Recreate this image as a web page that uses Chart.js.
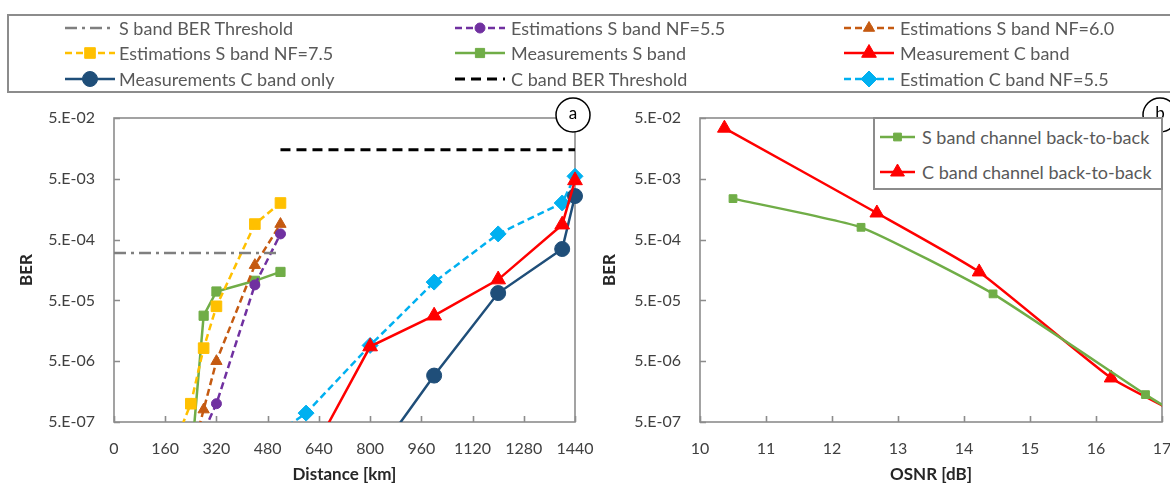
<!DOCTYPE html>
<html>
<head>
<meta charset="utf-8">
<script src="https://cdn.jsdelivr.net/npm/chart.js@4.4.1/dist/chart.umd.min.js"></script>
<style>
  html, body { margin: 0; padding: 0; background: #fff; }
  body { width: 1170px; height: 483px; overflow: hidden; position: relative; font-family: Lato, "Open Sans", sans-serif; }
  .box { position: absolute; border: 2px solid #8c8c8c; box-sizing: border-box; background: transparent; }
  .lg-text { position: absolute; font-size: 18px; line-height: 20px; color: #595959; white-space: nowrap; }
  canvas.icon { position: absolute; }
  .cv { position: absolute; top: 0; }
</style>
</head>
<body>
<div class="box" id="topLegend" style="left:7px; top:14px; width:1200px; height:79px;"></div>
<canvas id="c1" class="cv" width="600" height="483" style="left:0px;"></canvas>
<canvas id="c2" class="cv" width="600" height="483" style="left:600px;"></canvas>
<div class="box" id="rightLegend" style="left:873px; top:117px; width:290px; height:73px; background:#fff;"></div>
<script>
// ---------------- data ----------------
const yTickValues = [5e-7, 5e-6, 5e-5, 5e-4, 5e-3, 5e-2];
const yTickLabels = ['5.E-07', '5.E-06', '5.E-05', '5.E-04', '5.E-03', '5.E-02'];

// Panel (a): BER vs distance [km]
const sThresholdKm = [0, 510];
const sThresholdBer = [3.0e-4, 3.0e-4];
const estS55Km = [240, 320, 440, 520];
const estS55Ber = [1.2e-7, 1.0e-6, 9.0e-5, 6.2e-4];
const estS60Km = [240, 280, 320, 440, 520];
const estS60Ber = [1.2e-7, 8.0e-7, 5.0e-6, 1.9e-4, 9.0e-4];
const estS75Km = [200, 240, 280, 320, 440, 520];
const estS75Ber = [3.0e-7, 1.0e-6, 8.2e-6, 4.0e-5, 9.0e-4, 2.0e-3];
const measSKm = [240, 280, 320, 440, 520];
const measSBer = [1.0e-7, 2.8e-5, 7.0e-5, 1.05e-4, 1.47e-4];
const measCKm = [600, 800, 1000, 1200, 1400, 1440];
const measCBer = [1.0e-7, 8.7e-6, 2.8e-5, 1.1e-4, 8.8e-4, 4.7e-3];
const measCOnlyKm = [800, 1000, 1200, 1400, 1440];
const measCOnlyBer = [1.0e-7, 2.9e-6, 6.6e-5, 3.5e-4, 2.6e-3];
const cThresholdKm = [520, 1440];
const cThresholdBer = [1.5e-2, 1.5e-2];
const estC55Km = [400, 600, 800, 1000, 1200, 1400, 1440];
const estC55Ber = [1.3e-7, 7.0e-7, 9.1e-6, 1.0e-4, 6.2e-4, 2.0e-3, 5.5e-3];

// Panel (b): BER vs OSNR [dB]
const osnrS = [10.5, 12.44, 14.44, 16.75, 17.5];
const berS = [2.36e-3, 7.96e-4, 6.4e-5, 1.41e-6, 4.5e-7];
const osnrC = [10.37, 12.68, 14.23, 16.23, 17.5];
const berC = [3.4e-2, 1.37e-3, 1.47e-4, 2.65e-6, 5.0e-7];

// ---------------- helpers ----------------
const FONT = 'Lato, "Open Sans", sans-serif';
const TICK_COLOR = '#404040';
const FRAME_COLOR = '#8c8c8c';
function pts(xs, ys) { return xs.map((x, i) => ({ x: x, y: ys[i] })); }

function series(label, xs, ys, color, dash, marker, r, width, extra) {
  return Object.assign({
    label: label,
    data: pts(xs, ys),
    borderColor: color,
    backgroundColor: color,
    borderWidth: width || 2.5,
    borderDash: dash,
    pointStyle: marker || 'circle',
    pointRadius: marker ? r : 0,
    pointHoverRadius: marker ? r : 0,
    pointBackgroundColor: color,
    pointBorderColor: color,
    pointBorderWidth: 1,
    tension: 0,
    fill: false
  }, extra || {});
}

function drawMarker(ctx, style, x, y, r) {
  ctx.beginPath();
  if (style === 'circle') {
    ctx.arc(x, y, r, 0, Math.PI * 2);
  } else if (style === 'rect') {
    const s = Math.SQRT1_2 * r;
    ctx.rect(x - s, y - s, 2 * s, 2 * s);
  } else if (style === 'rectRot') {
    ctx.moveTo(x - r, y); ctx.lineTo(x, y - r); ctx.lineTo(x + r, y); ctx.lineTo(x, y + r); ctx.closePath();
  } else if (style === 'triangle') {
    let rad = 0;
    ctx.moveTo(x + Math.sin(rad) * r, y - Math.cos(rad) * r);
    rad += 2 * Math.PI / 3;
    ctx.lineTo(x + Math.sin(rad) * r, y - Math.cos(rad) * r);
    rad += 2 * Math.PI / 3;
    ctx.lineTo(x + Math.sin(rad) * r, y - Math.cos(rad) * r);
    ctx.closePath();
  }
  ctx.fill();
  ctx.stroke();
}

function addLegendItem(ds, iconX, textX, cy, iconW) {
  const c = document.createElement('canvas');
  c.className = 'icon';
  c.width = iconW; c.height = 24;
  c.style.left = iconX + 'px';
  c.style.top = (cy - 12) + 'px';
  document.body.appendChild(c);
  const ctx = c.getContext('2d');
  ctx.strokeStyle = ds.borderColor;
  ctx.fillStyle = ds.borderColor;
  ctx.lineWidth = ds.borderWidth;
  ctx.setLineDash(ds.borderDash || []);
  ctx.beginPath(); ctx.moveTo(0, 12); ctx.lineTo(iconW, 12); ctx.stroke();
  ctx.setLineDash([]);
  ctx.lineWidth = 1;
  if (ds.pointRadius > 0) drawMarker(ctx, ds.pointStyle, iconW / 2, 12, ds.pointRadius);
  const t = document.createElement('div');
  t.className = 'lg-text';
  t.textContent = ds.label;
  t.style.left = textX + 'px';
  t.style.top = (cy - 10) + 'px';
  document.body.appendChild(t);
}

const framePlugin = {
  id: 'frame',
  beforeDatasetsDraw(chart, args, opts) {
    const { ctx, chartArea: a } = chart;
    const xs = chart.scales.x, ys = chart.scales.y;
    ctx.save();
    ctx.strokeStyle = FRAME_COLOR;
    ctx.lineWidth = 1.6;
    ctx.strokeRect(a.left, a.top, a.right - a.left, a.bottom - a.top);
    ctx.beginPath();
    xs.ticks.forEach(t => {
      const px = Math.round(xs.getPixelForValue(t.value)) + 0.5;
      ctx.moveTo(px, a.bottom); ctx.lineTo(px, a.bottom - 6);
    });
    ys.ticks.forEach(t => {
      const py = Math.round(ys.getPixelForValue(t.value)) + 0.5;
      ctx.moveTo(a.left, py); ctx.lineTo(a.left + 6, py);
    });
    ctx.stroke();
    ctx.restore();
  },
  afterDraw(chart, args, opts) {
    if (!opts || !opts.label) return;
    const { ctx, chartArea: a } = chart;
    ctx.save();
    ctx.beginPath();
    ctx.arc(a.right - 2, a.top - 3, 17, 0, Math.PI * 2);
    ctx.fillStyle = '#fff';
    ctx.fill();
    ctx.strokeStyle = '#000';
    ctx.lineWidth = 1.5;
    ctx.stroke();
    ctx.fillStyle = '#000';
    ctx.font = '17px ' + FONT;
    ctx.textAlign = 'center';
    ctx.textBaseline = 'middle';
    ctx.fillText(opts.label, a.right - 2, a.top - 4);
    ctx.restore();
  }
};

function yScale(titlePadTop, width) {
  return {
    type: 'logarithmic',
    min: yTickValues[0],
    max: yTickValues[yTickValues.length - 1],
    afterBuildTicks: s => { s.ticks = yTickValues.map(v => ({ value: v })); },
    afterFit: s => { s.width = width; },
    ticks: {
      autoSkip: false,
      padding: 19,
      color: TICK_COLOR,
      font: { family: FONT, size: 16 },
      callback: v => { const i = yTickValues.findIndex(t => Math.abs(t - v) / t < 1e-6); return i >= 0 ? yTickLabels[i] : ''; }
    },
    grid: { display: false, drawTicks: false },
    border: { display: false },
    title: { display: true, text: 'BER', color: '#262626', font: { family: FONT, size: 17, weight: 'bold', lineHeight: 1 }, padding: { top: titlePadTop, bottom: 0 } }
  };
}

function xScale(min, max, step, title) {
  return {
    type: 'linear',
    min: min, max: max,
    afterFit: s => { s.height = 61; },
    ticks: { stepSize: step, autoSkip: false, maxRotation: 0, padding: 4, color: TICK_COLOR, font: { family: FONT, size: 16 },
      callback: v => String(v) },
    grid: { display: false, drawTicks: true, tickLength: 13 },
    border: { display: false },
    title: { display: true, text: title, color: '#262626', font: { family: FONT, size: 17, weight: 'bold', lineHeight: 1 }, padding: { top: 0, bottom: 0 } }
  };
}

const clipA = { left: 20, top: 20, right: 20, bottom: 0 };
const dash = [7, 4];
const leftDatasets = [
  series('S band BER Threshold', sThresholdKm, sThresholdBer, '#7F7F7F', [12, 5, 3, 5], null, 0, 2.5),
  series('Estimations S band NF=5.5', estS55Km, estS55Ber, '#7030A0', dash, 'circle', 5),
  series('Estimations S band NF=6.0', estS60Km, estS60Ber, '#C55A11', dash, 'triangle', 6.5),
  series('Estimations S band NF=7.5', estS75Km, estS75Ber, '#FFC000', dash, 'rect', 7.5),
  series('Measurements S band', measSKm, measSBer, '#70AD47', [], 'rect', 6.5),
  series('Measurement C band', measCKm, measCBer, '#FF0000', [], 'triangle', 8.5),
  series('Measurements C band only', measCOnlyKm, measCOnlyBer, '#1F4E79', [], 'circle', 7.5),
  series('C band BER Threshold', cThresholdKm, cThresholdBer, '#000000', [10, 6], null, 0, 3),
  series('Estimation C band NF=5.5', estC55Km, estC55Ber, '#00B0F0', dash, 'rectRot', 8)
];
leftDatasets.forEach(d => { d.clip = clipA; });

new Chart(document.getElementById('c1'), {
  type: 'line',
  data: { datasets: leftDatasets },
  options: {
    responsive: false,
    animation: false,
    devicePixelRatio: 1,
    layout: { padding: { left: 0, top: 118, right: 25, bottom: 0 } },
    plugins: { legend: { display: false }, tooltip: { enabled: false }, frame: { label: 'a' } },
    scales: { x: xScale(0, 1440, 160, 'Distance [km]'), y: yScale(18, 114) }
  },
  plugins: [framePlugin]
});

const clipB = { left: 20, top: 20, right: 0, bottom: 0 };
const rightDatasets = [
  series('S band channel back-to-back', osnrS, berS, '#70AD47', [], 'rect', 5.5, 2.5, { tension: 0.15, clip: clipB }),
  series('C band channel back-to-back', osnrC, berC, '#FF0000', [], 'triangle', 8, 2.5, { tension: 0.15, clip: clipB })
];

new Chart(document.getElementById('c2'), {
  type: 'line',
  data: { datasets: rightDatasets },
  options: {
    responsive: false,
    animation: false,
    devicePixelRatio: 1,
    layout: { padding: { left: 0, top: 118, right: 38, bottom: 0 } },
    plugins: { legend: { display: false }, tooltip: { enabled: false }, frame: { label: 'b' } },
    scales: { x: xScale(10, 17, 1, 'OSNR [dB]'), y: yScale(1.5, 100) }
  },
  plugins: [framePlugin]
});

// ---------------- legends ----------------
const colIcon = [65, 455, 844];
const colText = [119, 511, 900];
const rowY = [28, 53, 79];
leftDatasets.forEach((ds, i) => {
  const row = Math.floor(i / 3), col = i % 3;
  addLegendItem(ds, colIcon[col], colText[col], rowY[row], 50);
});
const rRowY = [137, 172];
rightDatasets.forEach((ds, i) => addLegendItem(ds, 880, 922, rRowY[i], 35));
</script>
</body>
</html>
